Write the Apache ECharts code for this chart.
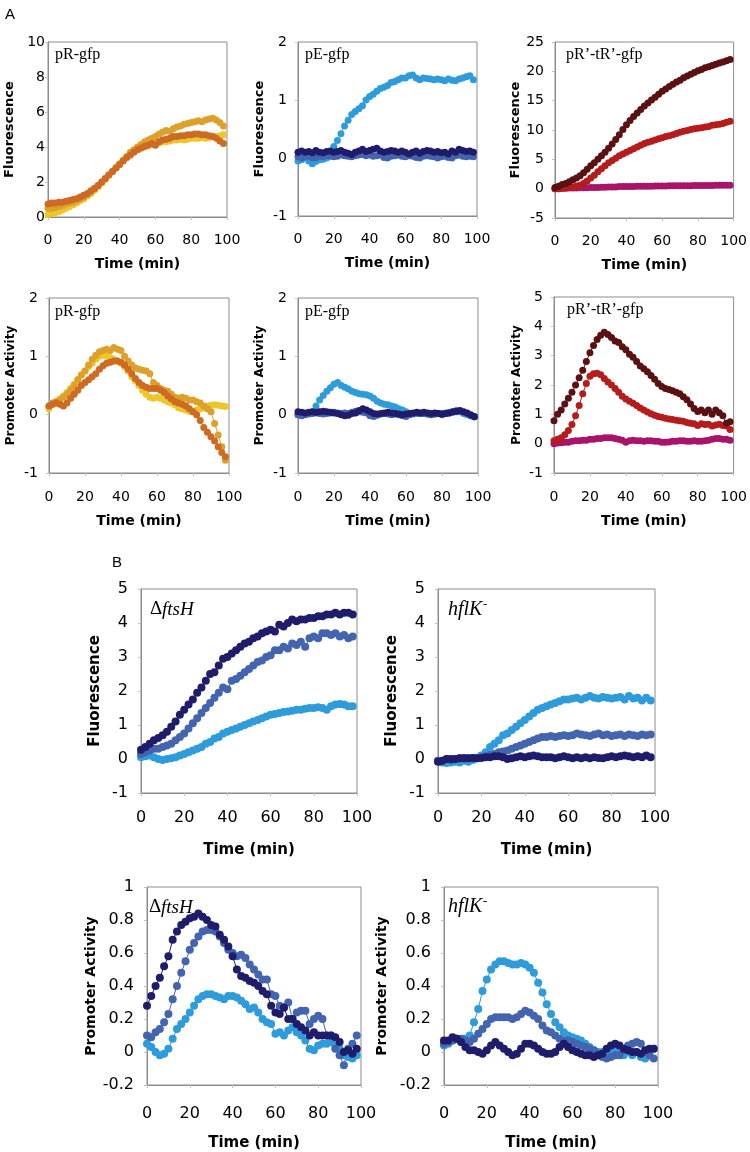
<!DOCTYPE html>
<html><head><meta charset="utf-8">
<script src="https://cdn.jsdelivr.net/npm/echarts/dist/echarts.min.js"></script>
<style>html,body{margin:0;padding:0;background:#fff}#c{width:750px;height:1152px}</style>
</head><body><div id="c"></div><script>
// ---- data ----
const T = [0,2,4,6,8,10,12,14,16,18,20,22,24,26,28,30,32,34,36,38,40,42,44,46,48,50,52,54,56,58,60,62,64,66,68,70,72,74,76,78,80,82,84,86,88,90,92,94,96,98];
const xTicks = [0,20,40,60,80,100];

// A: pR-gfp fluorescence
const p1Yellow = [0.15,0.2,0.25,0.3,0.4,0.5,0.6,0.7,0.8,0.95,
1.05,1.2,1.35,1.55,1.75,1.95,2.15,2.4,2.6,2.85,
3.05,3.25,3.45,3.6,3.75,3.85,3.95,4.0,4.1,4.15,
4.2,4.25,4.3,4.3,4.35,4.4,4.4,4.45,4.4,4.45,
4.5,4.5,4.5,4.55,4.5,4.55,4.6,4.6,4.65,4.7];
const p1Gold = [0.5,0.5,0.55,0.6,0.65,0.75,0.8,0.85,0.95,1.05,
1.15,1.3,1.45,1.6,1.8,2.0,2.2,2.4,2.6,2.8,
3.0,3.25,3.45,3.7,3.85,4.0,4.15,4.3,4.4,4.5,
4.6,4.75,4.85,4.95,4.9,5.05,5.15,5.2,5.3,5.35,
5.4,5.45,5.5,5.45,5.55,5.6,5.65,5.55,5.4,5.2];
const p1Orange = [0.75,0.8,0.8,0.85,0.85,0.9,0.95,1.0,1.05,1.15,
1.25,1.35,1.5,1.65,1.8,2.0,2.2,2.4,2.6,2.8,
3.0,3.2,3.4,3.55,3.7,3.85,3.95,4.05,4.1,4.2,
4.1,4.3,4.4,4.45,4.5,4.6,4.6,4.65,4.65,4.7,
4.7,4.75,4.75,4.7,4.7,4.65,4.6,4.5,4.35,4.2];

// A: pE-gfp fluorescence
const p2Light = [-0.05,-0.03,0.0,-0.05,-0.1,-0.06,-0.03,-0.02,0.0,0.05,
0.2,0.3,0.42,0.55,0.65,0.75,0.8,0.85,0.9,1.0,
1.06,1.1,1.15,1.2,1.22,1.25,1.3,1.32,1.35,1.38,
1.38,1.42,1.43,1.38,1.35,1.38,1.37,1.36,1.35,1.36,
1.35,1.33,1.36,1.34,1.33,1.36,1.38,1.4,1.42,1.35];
const p2Mid = [0.02,0.0,0.03,0.02,0.0,0.01,0.03,0.02,0.04,0.03,
0.02,0.03,0.05,0.04,0.03,0.02,0.04,0.05,0.06,0.04,
0.05,0.03,0.04,0.05,0.01,0.0,0.03,0.04,0.05,0.03,
0.02,0.04,0.03,0.01,0.0,0.03,0.04,0.03,0.02,0.0,
0.02,0.03,0.01,0.0,0.04,0.05,0.03,0.02,0.03,0.02];
const p2Navy = [0.1,0.12,0.1,0.11,0.09,0.13,0.1,0.09,0.11,0.12,
0.1,0.11,0.13,0.1,0.08,0.06,0.1,0.12,0.15,0.11,
0.13,0.15,0.17,0.12,0.1,0.11,0.13,0.12,0.1,0.12,
0.1,0.07,0.1,0.12,0.08,0.11,0.13,0.12,0.1,0.11,
0.09,0.1,0.07,0.12,0.1,0.15,0.13,0.11,0.12,0.1];

// A: pR'-tR'-gfp fluorescence
const p3Brown = [0.2,0.4,0.7,0.9,1.2,1.5,1.8,2.2,2.7,3.3,
3.9,4.4,5.0,5.6,6.2,6.9,7.6,8.4,9.2,10.1,
10.9,11.6,12.3,12.9,13.5,14.1,14.6,15.1,15.6,16.1,
16.6,17.0,17.4,17.8,18.2,18.5,18.9,19.2,19.5,19.8,
20.1,20.3,20.6,20.8,21.0,21.2,21.4,21.6,21.8,22.0];
const p3Red = [0.0,0.0,0.05,0.1,0.2,0.3,0.45,0.6,0.9,1.3,
1.8,2.3,2.9,3.4,3.9,4.4,4.8,5.2,5.6,5.9,
6.2,6.5,6.8,7.1,7.4,7.7,7.9,8.1,8.3,8.5,
8.7,8.9,9.0,9.2,9.4,9.6,9.8,9.9,10.1,10.2,
10.3,10.4,10.5,10.6,10.8,10.9,11.0,11.1,11.3,11.5];
const p3Magenta = [0.0,0.0,0.05,0.05,0.1,0.1,0.1,0.15,0.15,0.15,
0.2,0.2,0.2,0.25,0.25,0.3,0.3,0.3,0.35,0.35,
0.35,0.35,0.35,0.4,0.4,0.4,0.4,0.4,0.45,0.45,
0.45,0.45,0.5,0.5,0.5,0.5,0.5,0.5,0.5,0.55,
0.55,0.55,0.55,0.55,0.55,0.6,0.6,0.6,0.6,0.6];

// A: pR-gfp promoter activity
const p4Yellow = [0.1,0.18,0.22,0.27,0.32,0.38,0.45,0.52,0.6,0.68,
0.75,0.82,0.88,0.95,1.0,1.02,1.0,0.98,0.95,0.92,
0.88,0.82,0.75,0.65,0.58,0.5,0.42,0.35,0.3,0.28,
0.3,0.28,0.25,0.22,0.2,0.17,0.12,0.1,0.08,0.06,
0.05,0.08,0.1,0.12,0.15,0.16,0.17,0.16,0.15,0.14];
const p4Gold = [0.15,0.2,0.22,0.25,0.3,0.35,0.42,0.5,0.6,0.68,
0.75,0.85,0.95,1.02,1.08,1.1,1.12,1.1,1.15,1.12,
1.1,1.0,0.92,0.85,0.8,0.78,0.76,0.75,0.7,0.55,
0.5,0.45,0.42,0.4,0.35,0.3,0.28,0.3,0.28,0.25,
0.25,0.22,0.2,0.15,0.1,0.05,-0.15,-0.35,-0.55,-0.78];
const p4Orange = [0.15,0.18,0.2,0.18,0.15,0.2,0.28,0.35,0.42,0.5,
0.55,0.6,0.65,0.7,0.78,0.84,0.88,0.9,0.92,0.92,
0.9,0.85,0.78,0.7,0.62,0.55,0.5,0.47,0.45,0.45,
0.45,0.42,0.38,0.32,0.27,0.22,0.2,0.18,0.15,0.1,
0.05,0.0,-0.1,-0.22,-0.3,-0.38,-0.45,-0.55,-0.65,-0.72];

// A: pE-gfp promoter activity
const p5Light = [0.0,0.0,0.01,0.02,0.05,0.15,0.25,0.33,0.4,0.46,
0.52,0.55,0.5,0.47,0.44,0.4,0.38,0.36,0.35,0.34,
0.32,0.28,0.23,0.2,0.18,0.17,0.15,0.13,0.1,0.08,
0.05,0.02,0.01,0.02,0.03,0.02,0.01,0.0,0.01,0.02,
0.02,0.03,0.04,0.05,0.07,0.05,0.02,0.0,-0.02,-0.03];
const p5Mid = [0.0,-0.02,0.0,0.01,0.02,0.03,0.02,0.01,0.02,0.03,
0.04,0.03,0.02,0.03,0.02,0.04,0.06,0.05,0.04,0.03,
-0.02,-0.03,-0.01,0.01,0.02,0.01,0.0,0.01,0.0,-0.02,
-0.03,0.0,0.02,0.03,0.02,0.02,0.01,0.0,0.01,0.02,
0.0,0.02,0.03,0.04,0.05,0.06,0.04,0.02,-0.02,-0.04];
const p5Navy = [0.05,0.04,0.03,0.04,0.05,0.04,0.05,0.06,0.05,0.04,
0.03,0.02,0.0,-0.02,-0.01,0.02,0.03,0.07,0.1,0.08,
0.05,0.02,0.01,0.02,0.03,0.04,0.03,0.02,0.01,0.0,
0.01,0.02,0.03,0.04,0.03,0.04,0.03,0.02,0.03,0.02,
0.01,0.02,0.03,0.05,0.06,0.07,0.05,0.03,0.0,-0.03];

// A: pR'-tR'-gfp promoter activity
const p6Brown = [0.78,1.0,1.15,1.35,1.55,1.75,2.0,2.25,2.5,2.8,
3.1,3.35,3.55,3.7,3.8,3.72,3.62,3.5,3.45,3.3,
3.2,3.05,2.95,2.8,2.65,2.55,2.45,2.32,2.2,2.05,
1.95,1.88,1.85,1.8,1.75,1.7,1.6,1.5,1.35,1.2,
1.1,1.15,1.05,1.15,1.0,1.15,1.05,0.95,0.7,0.75];
const p6Red = [0.1,0.15,0.2,0.3,0.45,0.65,0.95,1.3,1.7,2.05,
2.3,2.38,2.4,2.35,2.22,2.1,2.0,1.88,1.75,1.62,
1.52,1.45,1.38,1.3,1.22,1.15,1.08,1.02,0.97,0.93,
0.9,0.87,0.84,0.82,0.8,0.78,0.76,0.72,0.7,0.68,
0.62,0.68,0.65,0.66,0.6,0.64,0.66,0.62,0.6,0.48];
const p6Magenta = [0.0,0.02,0.03,0.05,0.05,0.08,0.1,0.1,0.12,0.12,
0.15,0.15,0.18,0.18,0.2,0.2,0.2,0.18,0.15,0.12,
0.05,0.1,0.12,0.1,0.1,0.08,0.1,0.1,0.08,0.08,
0.05,0.05,0.06,0.08,0.08,0.1,0.1,0.08,0.08,0.1,
0.08,0.08,0.1,0.12,0.15,0.18,0.18,0.15,0.15,0.12];

// B: deltaftsH fluorescence
const p7Light = [0.05,0.08,0.1,0.05,0.0,-0.03,0.0,0.02,0.05,0.1,
0.15,0.2,0.25,0.3,0.35,0.45,0.5,0.6,0.65,0.75,
0.8,0.85,0.9,0.95,1.0,1.05,1.1,1.15,1.2,1.25,
1.3,1.32,1.35,1.38,1.4,1.42,1.45,1.45,1.48,1.5,
1.5,1.52,1.5,1.45,1.55,1.6,1.62,1.6,1.55,1.55];
const p7Mid = [0.15,0.2,0.25,0.3,0.3,0.35,0.4,0.45,0.55,0.65,
0.75,0.9,1.05,1.2,1.35,1.5,1.65,1.8,1.95,2.1,
2.05,2.3,2.35,2.45,2.55,2.65,2.75,2.85,2.9,3.0,
3.05,3.2,3.2,3.3,3.25,3.4,3.35,3.45,3.3,3.55,
3.6,3.55,3.7,3.7,3.65,3.7,3.6,3.65,3.55,3.6];
const p7Navy = [0.27,0.35,0.45,0.55,0.62,0.7,0.8,0.95,1.1,1.3,
1.45,1.6,1.75,1.95,2.1,2.3,2.5,2.55,2.75,2.95,
3.0,3.1,3.2,3.3,3.4,3.45,3.55,3.6,3.7,3.75,
3.8,3.75,3.95,3.9,4.0,4.1,4.05,4.1,4.1,4.15,
4.15,4.2,4.2,4.25,4.25,4.3,4.25,4.3,4.3,4.25];

// B: hflK- fluorescence
const p8Light = [-0.05,-0.1,-0.12,-0.1,-0.08,-0.1,-0.05,-0.08,-0.03,0.02,
0.1,0.2,0.35,0.45,0.55,0.7,0.75,0.85,0.95,1.05,
1.15,1.25,1.35,1.45,1.5,1.55,1.6,1.65,1.7,1.75,
1.75,1.78,1.8,1.75,1.8,1.85,1.8,1.78,1.82,1.8,
1.78,1.8,1.82,1.75,1.85,1.78,1.8,1.72,1.8,1.72];
const p8Mid = [-0.05,-0.05,0.0,-0.03,0.0,0.02,0.0,0.02,0.03,0.03,
0.05,0.08,0.12,0.15,0.2,0.22,0.25,0.3,0.35,0.4,
0.45,0.5,0.55,0.6,0.65,0.65,0.68,0.65,0.68,0.7,
0.68,0.7,0.75,0.72,0.7,0.68,0.72,0.75,0.7,0.72,
0.68,0.7,0.72,0.68,0.72,0.7,0.68,0.72,0.7,0.72];
const p8Navy = [-0.08,-0.05,0.0,0.0,0.0,0.02,0.03,0.02,0.03,0.02,
0.03,0.05,0.05,0.08,0.08,0.05,0.0,0.02,0.05,0.08,
0.05,0.08,0.1,0.08,0.05,0.05,0.05,0.02,0.05,0.08,
0.05,0.02,0.05,0.02,0.05,0.02,0.05,0.03,0.02,0.05,
0.08,0.05,0.08,0.1,0.08,0.05,0.08,0.05,0.1,0.05];

// B: deltaftsH promoter activity
const p9Light = [0.05,0.03,0.0,-0.02,-0.01,0.02,0.08,0.14,0.17,0.2,
0.24,0.28,0.32,0.34,0.35,0.35,0.34,0.33,0.32,0.34,
0.34,0.33,0.31,0.29,0.26,0.27,0.24,0.2,0.18,0.17,
0.11,0.12,0.1,0.13,0.15,0.12,0.1,0.07,0.02,0.01,
0.04,0.05,0.05,0.06,0.04,0.02,-0.02,-0.03,-0.04,-0.02];
const p9Mid = [0.1,0.09,0.12,0.14,0.18,0.23,0.32,0.4,0.48,0.55,
0.62,0.66,0.7,0.73,0.74,0.74,0.73,0.7,0.66,0.62,
0.6,0.58,0.59,0.57,0.53,0.5,0.47,0.44,0.44,0.35,
0.34,0.28,0.27,0.3,0.2,0.24,0.25,0.25,0.17,0.2,
0.22,0.2,0.1,0.1,0.02,-0.02,-0.08,0.02,0.05,0.1];
const p9Navy = [0.28,0.34,0.4,0.45,0.52,0.58,0.68,0.73,0.77,0.79,
0.81,0.82,0.84,0.82,0.8,0.77,0.76,0.71,0.68,0.64,
0.58,0.5,0.46,0.45,0.43,0.42,0.4,0.37,0.35,0.28,
0.24,0.23,0.27,0.2,0.2,0.17,0.15,0.13,0.1,0.12,
0.1,0.1,0.1,0.1,0.09,0.06,0.0,0.01,-0.01,0.02];

// B: hflK- promoter activity
const p10Light = [0.04,0.05,0.07,0.08,0.06,0.08,0.1,0.18,0.26,0.37,
0.44,0.5,0.53,0.55,0.55,0.54,0.53,0.53,0.54,0.53,
0.51,0.48,0.42,0.36,0.29,0.23,0.18,0.15,0.12,0.1,
0.09,0.08,0.07,0.05,0.03,0.01,0.0,0.0,-0.01,0.0,
0.01,-0.01,-0.02,0.0,-0.02,0.0,-0.03,-0.04,-0.02,0.02];
const p10Mid = [0.05,0.06,0.07,0.08,0.08,0.07,0.06,0.08,0.11,0.14,
0.17,0.2,0.21,0.21,0.21,0.21,0.2,0.21,0.23,0.25,
0.24,0.22,0.2,0.16,0.13,0.12,0.1,0.08,0.07,0.07,
0.06,0.05,0.04,0.03,0.02,0.01,-0.01,-0.03,-0.04,-0.03,
-0.02,-0.02,0.01,0.04,0.05,0.06,0.05,0.0,-0.02,-0.04];
const p10Navy = [0.07,0.07,0.09,0.08,0.06,0.03,0.01,0.01,0.0,-0.01,
0.01,0.04,0.06,0.04,0.02,0.0,-0.02,-0.01,0.02,0.05,
0.05,0.04,0.02,0.0,-0.01,-0.01,0.0,0.03,0.05,0.03,
0.01,0.0,-0.01,-0.02,-0.02,-0.03,-0.02,-0.01,0.02,0.04,
0.05,0.04,0.02,0.01,0.0,0.0,-0.01,0.01,0.02,0.02];

// ---- styling / layout ----
const C = {yellow:'#EEC52A', gold:'#DDA02A', orange:'#CE6B22',
  light:'#2E9CDB', mid:'#4364AE', navy:'#1F1C6B',
  brown:'#5B1111', red:'#B51C1C', magenta:'#A8146A'};

const panels = [
 {L:[48,42,179,175], y:[0,10,2], yn:'Fluorescence', yfs:13, yng:32, ylm:3, xng:40, xlm:16, tfs:14, xfs:14, sym:7,
  s:[[p1Yellow,C.yellow],[p1Gold,C.gold],[p1Orange,C.orange]]},
 {L:[298,42,179,174], y:[-1,2,1], yn:'Fluorescence', yfs:13, yng:32, ylm:11, xng:40, xlm:16, tfs:14, xfs:14, sym:7,
  s:[[p2Light,C.light],[p2Mid,C.mid],[p2Navy,C.navy]]},
 {L:[555,42,179,176], y:[-5,25,5], yn:'Fluorescence', yfs:13, yng:32, ylm:11, xng:40, xlm:16, tfs:14, xfs:14, sym:7,
  s:[[p3Magenta,C.magenta],[p3Red,C.red],[p3Brown,C.brown]]},
 {L:[49,298,180,175], y:[-1,2,1], yn:'Promoter Activity', yfs:12, yng:32, ylm:11, xng:41, xlm:17, tfs:14, xfs:14, sym:7,
  s:[[p4Yellow,C.yellow],[p4Gold,C.gold],[p4Orange,C.orange]]},
 {L:[298,298,180,175], y:[-1,2,1], yn:'Promoter Activity', yfs:12, yng:32, ylm:11, xng:41, xlm:17, tfs:14, xfs:14, sym:7,
  s:[[p5Light,C.light],[p5Mid,C.mid],[p5Navy,C.navy]]},
 {L:[554,297,183,176], y:[-1,5,1], yn:'Promoter Activity', yfs:12, yng:31, ylm:11, xng:41, xlm:17, tfs:14, xfs:14, sym:7,
  s:[[p6Magenta,C.magenta],[p6Red,C.red],[p6Brown,C.brown]]},
 {L:[141,589,216,204], y:[-1,5,1], yn:'Fluorescence', yfs:15, yng:38, ylm:13, xng:50, xlm:17, tfs:16, xfs:15, sym:8,
  s:[[p7Light,C.light],[p7Mid,C.mid],[p7Navy,C.navy]]},
 {L:[438,589,217,204], y:[-1,5,1], yn:'Fluorescence', yfs:15, yng:38, ylm:13, xng:50, xlm:17, tfs:16, xfs:15, sym:8,
  s:[[p8Light,C.light],[p8Mid,C.mid],[p8Navy,C.navy]]},
 {L:[147,887,214,198], y:[-0.2,1,0.2], yn:'Promoter Activity', yfs:14, yng:49, ylm:13, xng:51, xlm:21, tfs:16, xfs:15, sym:8,
  s:[[p9Light,C.light],[p9Mid,C.mid],[p9Navy,C.navy]]},
 {L:[444,887,214,198], y:[-0.2,1,0.2], yn:'Promoter Activity', yfs:14, yng:55, ylm:13, xng:51, xlm:21, tfs:16, xfs:15, sym:8,
  s:[[p10Light,C.light],[p10Mid,C.mid],[p10Navy,C.navy]]}
];

const FONT = 'DejaVu Sans';
const AX = '#8c8c8c';
const fmtY = v => { const r = Math.round(v*10)/10; return String(r); };

const option = {
  animation: false,
  backgroundColor: '#fff',
  grid: panels.map(p => ({left:p.L[0], top:p.L[1], width:p.L[2], height:p.L[3], show:true, borderColor:AX, borderWidth:1, backgroundColor:'#fff'})),
  xAxis: panels.map((p,i) => ({
    gridIndex:i, type:'value', min:xTicks[0], max:xTicks[xTicks.length-1], interval:xTicks[1]-xTicks[0],
    name:'Time (min)', nameLocation:'middle', nameGap:p.xng,
    nameTextStyle:{fontFamily:FONT, fontWeight:'bold', fontSize:p.xfs, color:'#000'},
    axisLine:{onZero:false, lineStyle:{color:AX}},
    axisTick:{show:true, length:3, lineStyle:{color:'#c0c0c0'}},
    axisLabel:{margin:p.xlm, fontFamily:FONT, fontSize:p.tfs, color:'#000'},
    splitLine:{show:false}
  })),
  yAxis: panels.map((p,i) => ({
    gridIndex:i, type:'value', min:p.y[0], max:p.y[1], interval:p.y[2],
    name:p.yn, nameLocation:'middle', nameGap:p.yng,
    nameTextStyle:{fontFamily:FONT, fontWeight:'bold', fontSize:p.yfs, color:'#000'},
    axisLine:{onZero:false, lineStyle:{color:AX}},
    axisTick:{show:true, length:3, lineStyle:{color:'#c0c0c0'}},
    axisLabel:{margin:p.ylm, fontFamily:FONT, fontSize:p.tfs, color:'#000', formatter:fmtY},
    splitLine:{show:false}
  })),
  series: [],
  graphic: []
};

panels.forEach((p,i) => {
  p.s.forEach(([vals,col]) => {
    option.series.push({
      type:'line', xAxisIndex:i, yAxisIndex:i,
      data: T.map((t,k) => [t, vals[k]]),
      symbol:'circle', symbolSize:p.sym, showSymbol:true, showAllSymbol:true,
      lineStyle:{width:1, color:col}, itemStyle:{color:col},
      silent:true, animation:false
    });
  });
});

const serif = 'Liberation Serif';
const txt = (x,y,text,font) => ({type:'text', x:x, y:y, z:100, style:{text:text, font:font, fill:'#000', textVerticalAlign:'top'}});
option.graphic = [
  txt(5,7,'A','15px "Liberation Sans"'),
  txt(112,555,'B','15px "Liberation Sans"'),
  txt(55,47,'pR-gfp','16px "'+serif+'"'),
  txt(305,47,'pE-gfp','16px "'+serif+'"'),
  txt(566,47,'pR\u2019-tR\u2019-gfp','16px "'+serif+'"'),
  txt(55,304,'pR-gfp','16px "'+serif+'"'),
  txt(305,304,'pE-gfp','16px "'+serif+'"'),
  txt(567,302,'pR\u2019-tR\u2019-gfp','16px "'+serif+'"'),
  txt(150,600,'\u0394','19px "'+serif+'"'),
  txt(162,600,'ftsH','italic 19px "'+serif+'"'),
  txt(448,600,'hflK','italic 20px "'+serif+'"'),
  txt(483,598,'-','13px "'+serif+'"'),
  txt(149,898,'\u0394','19px "'+serif+'"'),
  txt(161,898,'ftsH','italic 19px "'+serif+'"'),
  txt(448,897,'hflK','italic 20px "'+serif+'"'),
  txt(483,895,'-','13px "'+serif+'"')
];

const chart = echarts.init(document.getElementById('c'), null, {renderer:'canvas'});
chart.setOption(option);
</script></body></html>
